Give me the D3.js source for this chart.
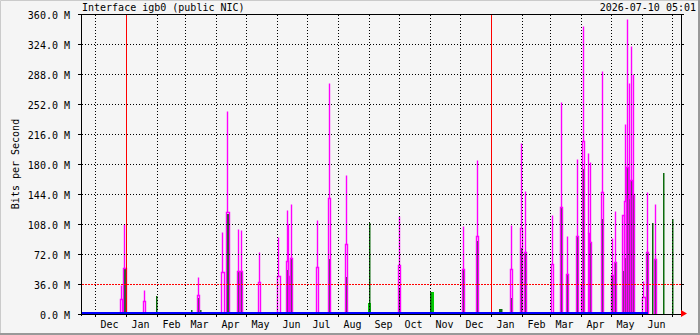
<!DOCTYPE html>
<html>
<head>
<meta charset="utf-8">
<script src="https://cdn.jsdelivr.net/npm/d3@7"></script>
<style>
  body { margin: 0; background: #f5f5f5; }
  svg { display: block; }
  text { font-family: "DejaVu Sans Mono", monospace; font-size: 10px; fill: #000; }
</style>
</head>
<body>
<div id="chart"></div>
<script>
// outbound bursts: start day, length in days, average and peak (Mbit/s)
var outDates = ["2024-12-26","2024-12-29","2025-01-18","2025-03-13","2025-04-06","2025-04-11","2025-04-22","2025-04-25","2025-05-13","2025-06-01",
                "2025-06-10","2025-06-12","2025-06-14","2025-07-10","2025-07-22","2025-08-08","2025-09-30","2025-12-03","2025-12-17","2026-01-20",
                "2026-01-30","2026-02-03","2026-03-02","2026-03-11","2026-03-17","2026-03-27","2026-04-01","2026-04-02","2026-04-08","2026-04-09",
                "2026-04-21","2026-05-01","2026-05-04","2026-05-12","2026-05-14","2026-05-16","2026-05-18","2026-05-20","2026-05-22","2026-06-01",
                "2026-06-05","2026-06-13"];
var outDays = [2,3,2,2,3,3,2,2,2,3, 2,1,2,2,2,2,2,2,2,2, 2,2,2,2,2,2,1,2,1,2, 2,2,2,2,2,2,2,2,2,3, 2,2];
var outAvg  = [18,55,16,23,51,122,52,52,38,46, 64,46,67,57,139,84,59,54,94,54, 103,74,60,128,48,94,34,208,97,87, 146,47,63,119,136,177,139,161,144,21, 74,66];
var outMax  = [35,108,29,44,98,244,102,101,74,93, 125,108,132,113,277,167,118,106,185,107, 205,148,119,254,94,186,34,346,193,183, 292,91,124,119,228,354,277,321,288,40, 146,132];
var inAvg   = [0,54,0,19,0,120,52,52,0,0, 53,46,66,0,66,44,31,54,88,19, 79,73,0,128,47,93,0,174,89,87, 114,47,62,52,67,177,138,160,144,0, 73,65];

// inbound only
var inDates = ["2025-01-31","2025-03-07","2025-03-16","2025-09-01","2025-11-01","2026-01-09","2026-06-11","2026-06-22","2026-07-01"];
var inDays  = [1,1,1,1,1,3,1,1,1];
var inVals  = [22,5,5,109,26,6,109,169,114];

var burstDates = ["2025-08-31","2025-11-01"];
var burstDays  = [2,3];
var burstVals  = [13,26];

var zeroDates = ["2024-11-17","2026-06-06"];
var zeroVals  = [0,0];

var yTicks = [0,36,72,108,144,180,216,252,288,324,360];
var hrules = [36];
var vrules = ["2025-01-01","2026-01-01"];

var W = 700, H = 335;
var parse = d3.timeParse("%Y-%m-%d");

var svg = d3.select("#chart").append("svg")
    .attr("width", W).attr("height", H);

svg.append("rect").attr("width", W).attr("height", H).attr("fill", "#f5f5f5");
// shaded frame
svg.append("path").attr("d", "M0.5," + H + "V0.5H" + W).attr("stroke", "#cbcbcb").attr("fill", "none");
svg.append("path").attr("d", "M0," + (H - 1) + "H" + (W - 1) + "V0").attr("stroke", "#999").attr("stroke-width", 2).attr("fill", "none");

var x = d3.scaleTime().domain([new Date(2024, 10, 17), new Date(2026, 6, 10)]).range([81.5, 681.5]);
var y = d3.scaleLinear().domain([0, 360]).range([314.5, 14.5]);
var base = 314;

function col(d) { return Math.floor(x(parse(d))); }
function row(v) { return Math.floor(y(v)); }

var plot = svg.append("g");

// inbound inside the bursts
outDates.forEach(function(d, i) {
    if (!inAvg[i]) return;
    var x0 = col(d);
    plot.append("rect").attr("x", x0).attr("width", outDays[i] + 1)
        .attr("y", row(inAvg[i])).attr("height", base - row(inAvg[i]))
        .attr("fill", "#0c6b0c");
});

burstDates.forEach(function(d, i) {
    var x0 = col(d);
    plot.append("rect").attr("x", x0).attr("width", burstDays[i] + 1)
        .attr("y", row(burstVals[i])).attr("height", base - row(burstVals[i]))
        .attr("fill", "#00cc00");
});

inDates.forEach(function(d, i) {
    var x0 = col(d);
    plot.append("rect").attr("x", x0).attr("width", inDays[i] + 0.5)
        .attr("y", row(inVals[i])).attr("height", base - row(inVals[i]))
        .attr("fill", "#0c6b0c");
});

// outbound average (step outline) and peak
outDates.forEach(function(d, i) {
    var x0 = col(d), x1 = x0 + outDays[i];
    var ya = row(outAvg[i]) + 0.5;
    plot.append("path")
        .attr("d", "M" + (x0 + 0.5) + "," + base + "V" + ya + "H" + (x1 + 0.5) + "V" + base)
        .attr("fill", "none").attr("stroke", "#ff00ff").attr("stroke-width", 1.4);
    if (outMax[i] > outAvg[i]) {
        var cx = x0 + Math.floor(outDays[i] / 2) + 0.5;
        plot.append("line").attr("x1", cx).attr("x2", cx)
            .attr("y1", ya).attr("y2", row(outMax[i]) + 0.5)
            .attr("stroke", "#ff00ff").attr("stroke-width", 1.4);
    }
});

// grid
var months = x.ticks(d3.timeMonth.every(1));
var grid = svg.append("g").attr("stroke", "#000").attr("stroke-dasharray", "1,2")
    .attr("shape-rendering", "crispEdges");
months.forEach(function(m) {
    var gx = Math.floor(x(m)) + 0.5;
    grid.append("line").attr("x1", gx).attr("x2", gx).attr("y1", 15).attr("y2", base);
});
yTicks.slice(1, -1).forEach(function(v) {
    var gy = y(v);
    grid.append("line").attr("x1", 82).attr("x2", 681).attr("y1", gy).attr("y2", gy);
});

// rules
hrules.forEach(function(v) {
    svg.append("line").attr("x1", 82).attr("x2", 681).attr("y1", y(v)).attr("y2", y(v))
        .attr("stroke", "#ff0000").attr("stroke-dasharray", "2,1").attr("shape-rendering", "crispEdges");
});
vrules.forEach(function(d) {
    var vx = Math.floor(x(parse(d))) + 0.5;
    svg.append("line").attr("x1", vx).attr("x2", vx).attr("y1", 14).attr("y2", 316)
        .attr("stroke", "#ff0000").attr("shape-rendering", "crispEdges");
});

// frame and axes
var ax = svg.append("g").attr("stroke", "#000").attr("fill", "none").attr("shape-rendering", "crispEdges");
ax.append("path").attr("d", "M81.5,316V14.5H681.5V316");
ax.append("line").attr("x1", 81).attr("x2", 682).attr("y1", 314.5).attr("y2", 314.5);
yTicks.forEach(function(v) {
    ax.append("line").attr("x1", 78).attr("x2", 81).attr("y1", y(v)).attr("y2", y(v));
    ax.append("line").attr("x1", 682).attr("x2", 684).attr("y1", y(v)).attr("y2", y(v));
});
months.forEach(function(m) {
    var gx = Math.floor(x(m)) + 0.5;
    ax.append("line").attr("x1", gx).attr("x2", gx).attr("y1", 314).attr("y2", 317);
});
svg.append("path").attr("d", "M681,310L687,313.5L681,317Z").attr("fill", "#ff0000");

// zero line
var zline = d3.line().x(function(d) { return x(parse(d)); }).y(function(d, i) { return y(zeroVals[i]) - 1.5; });
svg.append("path").datum(zeroDates).attr("d", zline).attr("shape-rendering", "crispEdges")
    .attr("stroke", "#0000ff").attr("stroke-width", 2).attr("fill", "none");

// labels
yTicks.forEach(function(v) {
    svg.append("text").attr("x", 70).attr("y", y(v) + 4).attr("text-anchor", "end")
        .text(v.toFixed(1) + " M");
});
var fmt = d3.timeFormat("%b");
months.forEach(function(m) {
    var lx = x(d3.timeDay.offset(m, 14));
    if (lx > 681) return;
    svg.append("text").attr("x", lx).attr("y", 328).attr("text-anchor", "middle").text(fmt(m));
});
svg.append("text").attr("x", 82).attr("y", 11).text("Interface igb0 (public NIC)");
svg.append("text").attr("x", 696).attr("y", 11).attr("text-anchor", "end").text("2026-07-10 05:01");
svg.append("text").attr("transform", "translate(19,164) rotate(-90)").attr("text-anchor", "middle")
    .text("Bits per Second");
</script>
</body>
</html>
